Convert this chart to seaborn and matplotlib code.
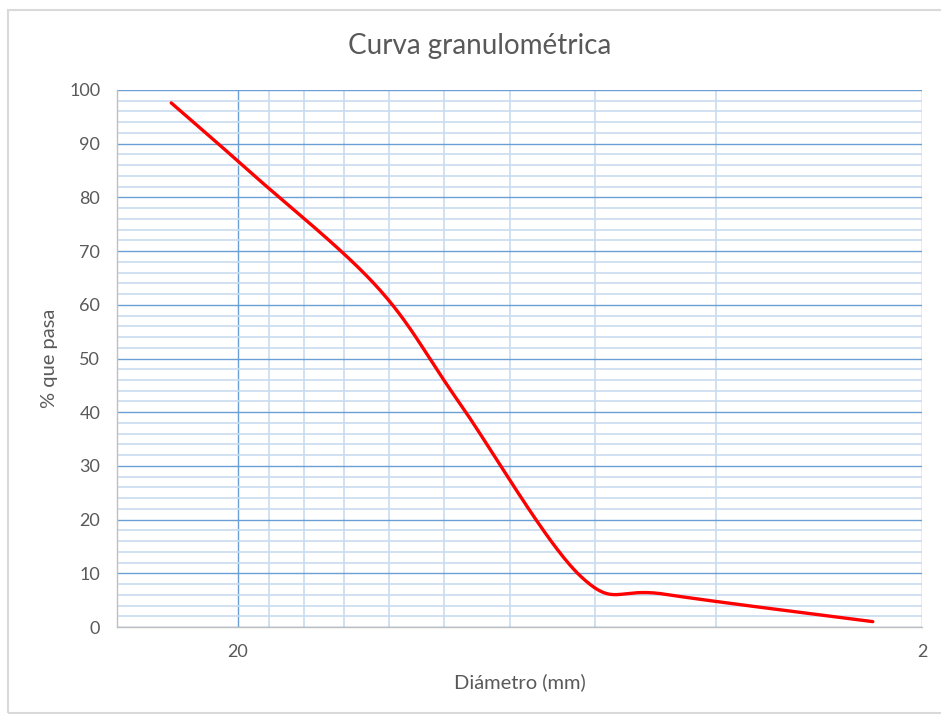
import numpy as np
import pandas as pd
import matplotlib
matplotlib.use("Agg")
import matplotlib.pyplot as plt
import seaborn as sns
from matplotlib.ticker import FixedLocator, MultipleLocator, NullFormatter
from matplotlib.patches import Rectangle

# ---- data ----
diametro_mm = [25.0, 19.0, 12.5, 9.5, 6.3, 4.75, 2.36]
pct_pasa = [97.6, 84.3, 63.3, 41.9, 9.4, 6.1, 1.0]
x_tick_values = [20, 2]
x_tick_labels = ["20", "2"]
titulo = "Curva granulométrica"
etiqueta_x = "Diámetro (mm)"
etiqueta_y = "% que pasa"


def smooth_curve(xs, ys, n=60):
    """Catmull-Rom smoothing (like Excel's smoothed line) in log-x space."""
    lx = np.log10(np.asarray(xs, float))
    y = np.asarray(ys, float)
    P = np.column_stack([lx, y])
    P = np.vstack([P[:1], P, P[-1:]])
    out = []
    for i in range(1, len(P) - 2):
        p0, p1, p2, p3 = P[i - 1], P[i], P[i + 1], P[i + 2]
        c1 = p1 + (p2 - p0) / 6.0
        c2 = p2 - (p3 - p1) / 6.0
        t = np.linspace(0, 1, n)[:, None]
        seg = ((1 - t) ** 3) * p1 + 3 * ((1 - t) ** 2) * t * c1 + 3 * (1 - t) * t ** 2 * c2 + t ** 3 * p2
        out.append(seg if i == 1 else seg[1:])
    S = np.vstack(out)
    return 10 ** S[:, 0], S[:, 1]


sx, sy = smooth_curve(diametro_mm, pct_pasa)
df = pd.DataFrame({"d": sx, "p": sy})

sns.set_theme(style="white")
plt.rcParams["font.family"] = ["Lato", "DejaVu Sans"]

fig = plt.figure(figsize=(9.41, 7.17), dpi=100)
ax = fig.add_axes([117 / 941, 1 - 627 / 717, (922 - 117) / 941, (627 - 90) / 717])

sns.lineplot(data=df, x="d", y="p", sort=False, estimator=None, ax=ax,
             color="#FF0000", lw=2.4, zorder=5)

ax.set_xscale("log")
ax.set_xlim(30, 2)
ax.set_ylim(0, 100)

ax.set_xticks(x_tick_values, x_tick_labels)
ax.xaxis.set_minor_locator(FixedLocator([4, 6, 8, 10, 12, 14, 16, 18]))
ax.xaxis.set_minor_formatter(NullFormatter())
ax.yaxis.set_major_locator(MultipleLocator(10))
ax.yaxis.set_minor_locator(MultipleLocator(2))

ax.grid(which="major", color="#6A9FD6", lw=1.0)
ax.grid(which="minor", color="#C9DCF0", lw=1.2)
ax.set_axisbelow(True)

for s in ["top", "right"]:
    ax.spines[s].set_visible(False)
for s in ["left", "bottom"]:
    ax.spines[s].set_color("#BFBFBF")
    ax.spines[s].set_linewidth(1.0)

ax.tick_params(which="both", length=0, colors="#595959", labelsize=13)
ax.tick_params(axis="x", pad=12)
ax.tick_params(axis="y", pad=12)

ax.set_xlabel(etiqueta_x, fontsize=14.5, color="#595959", labelpad=10)
ax.set_ylabel(etiqueta_y, fontsize=14.5, color="#595959", labelpad=8)
fig.text(480 / 941, 1 - 46 / 717, titulo, ha="center", va="center",
         fontsize=20, color="#595959")

fig.add_artist(Rectangle((8 / 941, 1 - 713 / 717), 940 / 941, 703 / 717,
                         transform=fig.transFigure, fill=False,
                         ec="#D9D9D9", lw=1.5))

fig.savefig("out.png", dpi=100)
